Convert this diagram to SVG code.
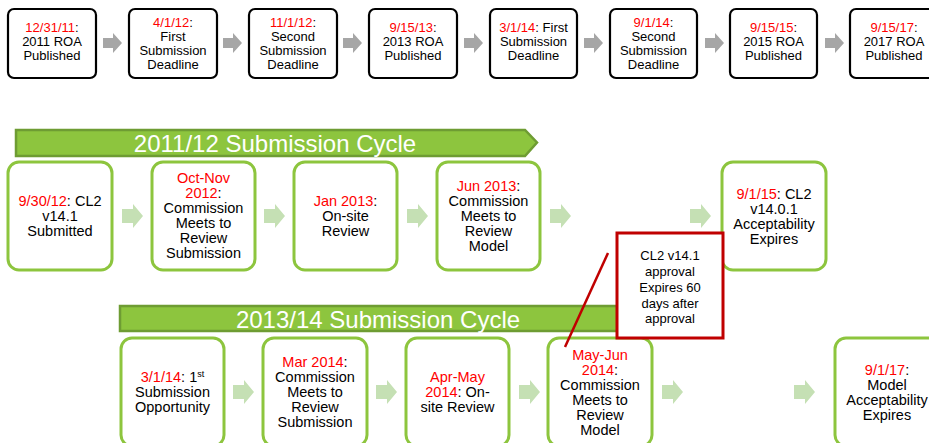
<svg xmlns="http://www.w3.org/2000/svg" width="929" height="443" viewBox="0 0 929 443">
<style>
text{font-family:"Liberation Sans",Arial,sans-serif;text-anchor:middle;fill:#000}
.t{font-size:13px}
.m{font-size:14.5px}
.r{fill:#ff0000}
.tb{fill:#fff;stroke:#000;stroke-width:2.2}
.gb{fill:#fff;stroke:#8dc53e;stroke-width:3}
.ga{fill:#a6a6a6}
.la{fill:#c5e0b4}
.ban{fill:#8dc53e;stroke:#6e9c33;stroke-width:2.5}
.bt{font-size:24px;fill:#fff}
</style>
<defs>
<path id="ta" d="M0,-5 h10 v-5 l9,10 l-9,10 v-5 h-10 z"/>
<path id="ma" d="M0,-7 h11 v-5 l10,12 l-10,12 v-5 h-11 z"/>
</defs>
<rect width="929" height="443" fill="#fff"/>

<g id="connectors">
<use href="#ta" class="ga" x="103" y="43"/>
<use href="#ta" class="ga" x="223" y="43"/>
<use href="#ta" class="ga" x="343" y="43"/>
<use href="#ta" class="ga" x="464" y="43"/>
<use href="#ta" class="ga" x="584" y="43"/>
<use href="#ta" class="ga" x="705" y="43"/>
<use href="#ta" class="ga" x="825" y="43"/>
<use href="#ma" class="la" x="122" y="216"/>
<use href="#ma" class="la" x="264" y="216"/>
<use href="#ma" class="la" x="407" y="216"/>
<use href="#ma" class="la" x="550" y="216"/>
<use href="#ma" class="la" x="690" y="216"/>
<use href="#ma" class="la" x="233" y="392"/>
<use href="#ma" class="la" x="376" y="392"/>
<use href="#ma" class="la" x="519" y="392"/>
<use href="#ma" class="la" x="662" y="392"/>
<use href="#ma" class="la" x="794" y="392"/>
</g>

<g id="t1"><rect class="tb" x="8" y="9" width="88" height="69" rx="6"/>
<text class="t" x="52" y="32"><tspan class="r">12/31/11</tspan>:</text><text class="t" x="52" y="46">2011 ROA</text><text class="t" x="52" y="60">Published</text></g>
<g id="t2"><rect class="tb" x="129" y="9" width="88" height="69" rx="6"/>
<text class="t" x="173" y="27"><tspan class="r">4/1/12</tspan>:</text><text class="t" x="173" y="41">First</text><text class="t" x="173" y="55">Submission</text><text class="t" x="173" y="68.5">Deadline</text></g>
<g id="t3"><rect class="tb" x="249" y="9" width="88" height="69" rx="6"/>
<text class="t" x="293" y="27"><tspan class="r">11/1/12</tspan>:</text><text class="t" x="293" y="41">Second</text><text class="t" x="293" y="55">Submission</text><text class="t" x="293" y="68.5">Deadline</text></g>
<g id="t4"><rect class="tb" x="369" y="9" width="88" height="69" rx="6"/>
<text class="t" x="413" y="32"><tspan class="r">9/15/13</tspan>:</text><text class="t" x="413" y="46">2013 ROA</text><text class="t" x="413" y="60">Published</text></g>
<g id="t5"><rect class="tb" x="490" y="9" width="87" height="69" rx="6"/>
<text class="t" x="533.5" y="32"><tspan class="r">3/1/14</tspan>: First</text><text class="t" x="533.5" y="46">Submission</text><text class="t" x="533.5" y="60">Deadline</text></g>
<g id="t6"><rect class="tb" x="610" y="9" width="87" height="69" rx="6"/>
<text class="t" x="653.5" y="27"><tspan class="r">9/1/14</tspan>:</text><text class="t" x="653.5" y="41">Second</text><text class="t" x="653.5" y="55">Submission</text><text class="t" x="653.5" y="68.5">Deadline</text></g>
<g id="t7"><rect class="tb" x="730" y="9" width="87" height="69" rx="6"/>
<text class="t" x="773.5" y="32"><tspan class="r">9/15/15</tspan>:</text><text class="t" x="773.5" y="46">2015 ROA</text><text class="t" x="773.5" y="60">Published</text></g>
<g id="t8"><rect class="tb" x="850" y="9" width="88" height="69" rx="6"/>
<text class="t" x="894" y="32"><tspan class="r">9/15/17</tspan>:</text><text class="t" x="894" y="46">2017 ROA</text><text class="t" x="894" y="60">Published</text></g>

<g id="banner1"><path class="ban" d="M16,130 H525 L537,142.5 L525,156 H16 Z"/>
<text class="bt" x="275" y="151.5">2011/12 Submission Cycle</text></g>

<g id="m1"><rect class="gb" x="8" y="162" width="104" height="108" rx="11"/>
<text class="m" x="60" y="206"><tspan class="r">9/30/12</tspan>: CL2</text><text class="m" x="60" y="221">v14.1</text><text class="m" x="60" y="236">Submitted</text></g>
<g id="m2"><rect class="gb" x="152" y="162" width="103" height="108" rx="11"/>
<text class="m" x="203.5" y="183"><tspan class="r">Oct-Nov</tspan></text><text class="m" x="203.5" y="198"><tspan class="r">2012</tspan>:</text><text class="m" x="203.5" y="213">Commission</text><text class="m" x="203.5" y="228">Meets to</text><text class="m" x="203.5" y="243">Review</text><text class="m" x="203.5" y="258">Submission</text></g>
<g id="m3"><rect class="gb" x="294" y="162" width="103" height="108" rx="11"/>
<text class="m" x="345.5" y="206"><tspan class="r">Jan 2013</tspan>:</text><text class="m" x="345.5" y="221">On-site</text><text class="m" x="345.5" y="236">Review</text></g>
<g id="m4"><rect class="gb" x="437" y="162" width="103" height="108" rx="11"/>
<text class="m" x="488.5" y="191"><tspan class="r">Jun 2013</tspan>:</text><text class="m" x="488.5" y="206">Commission</text><text class="m" x="488.5" y="221">Meets to</text><text class="m" x="488.5" y="236">Review</text><text class="m" x="488.5" y="251">Model</text></g>
<g id="m5"><rect class="gb" x="722" y="162" width="104" height="108" rx="11"/>
<text class="m" x="774" y="198.5"><tspan class="r">9/1/15</tspan>: CL2</text><text class="m" x="774" y="213.5">v14.0.1</text><text class="m" x="774" y="228.5">Acceptability</text><text class="m" x="774" y="243.5">Expires</text></g>

<g id="banner2"><path class="ban" d="M120,306 H625 L637,318.5 L625,331 H120 Z"/>
<text class="bt" x="378" y="327.5">2013/14 Submission Cycle</text></g>

<g id="b1"><rect class="gb" x="121" y="338" width="103" height="108" rx="11"/>
<text class="m" x="172.5" y="382"><tspan class="r">3/1/14</tspan>: 1<tspan font-size="9" dy="-5">st</tspan></text><text class="m" x="172.5" y="397">Submission</text><text class="m" x="172.5" y="412">Opportunity</text></g>
<g id="b2"><rect class="gb" x="263" y="338" width="104" height="108" rx="11"/>
<text class="m" x="315" y="367"><tspan class="r">Mar 2014</tspan>:</text><text class="m" x="315" y="382">Commission</text><text class="m" x="315" y="397">Meets to</text><text class="m" x="315" y="412">Review</text><text class="m" x="315" y="427">Submission</text></g>
<g id="b3"><rect class="gb" x="406" y="338" width="103" height="108" rx="11"/>
<text class="m" x="457.5" y="382"><tspan class="r">Apr-May</tspan></text><text class="m" x="457.5" y="397"><tspan class="r">2014</tspan>: On-</text><text class="m" x="457.5" y="412">site Review</text></g>
<g id="b4"><rect class="gb" x="548" y="338" width="104" height="108" rx="11"/>
<text class="m" x="600" y="359.5"><tspan class="r">May-Jun</tspan></text><text class="m" x="600" y="374.5"><tspan class="r">2014</tspan>:</text><text class="m" x="600" y="389.5">Commission</text><text class="m" x="600" y="404.5">Meets to</text><text class="m" x="600" y="419.5">Review</text><text class="m" x="600" y="434.5">Model</text></g>
<g id="b5"><rect class="gb" x="835" y="338" width="104" height="108" rx="11"/>
<text class="m" x="887" y="374.5"><tspan class="r">9/1/17</tspan>:</text><text class="m" x="887" y="389.5">Model</text><text class="m" x="887" y="404.5">Acceptability</text><text class="m" x="887" y="419.5">Expires</text></g>

<g id="callout"><rect x="617" y="233" width="106" height="105" fill="#fff" stroke="#c00000" stroke-width="3"/>
<text class="t" x="670" y="260">CL2 v14.1</text><text class="t" x="670" y="276">approval</text><text class="t" x="670" y="292">Expires 60</text><text class="t" x="670" y="308">days after</text><text class="t" x="670" y="323">approval</text></g>
<g id="callout-line"><line x1="608" y1="253" x2="565" y2="347" stroke="#c00000" stroke-width="2.5"/></g>
</svg>
